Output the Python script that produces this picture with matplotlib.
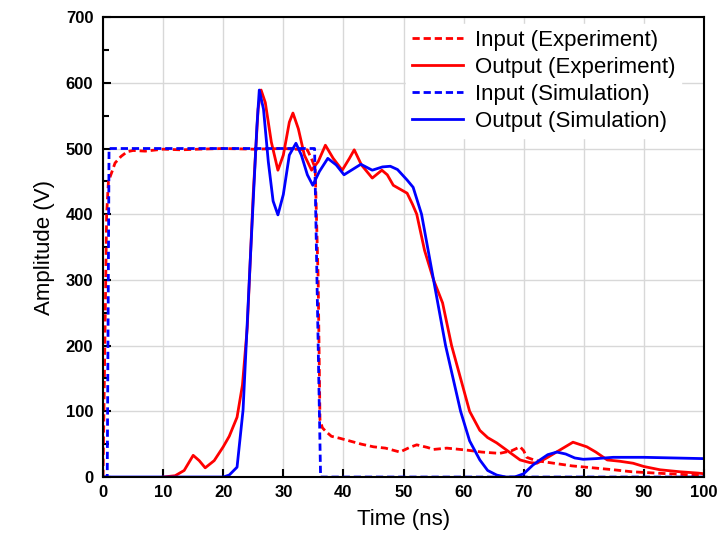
import numpy as np
import matplotlib
matplotlib.use("Agg")
import matplotlib.pyplot as plt
from matplotlib.ticker import MultipleLocator

plt.rcParams['font.family'] = ['Liberation Sans', 'DejaVu Sans']

# --- data (time in ns, amplitude in V) ---
t_in_exp = [0, 0.3, 0.6, 0.9, 1.5, 2, 3, 4, 5, 7, 10, 13, 16, 20, 25, 30, 34, 34.8, 35.3,
            35.8, 36.1, 36.5, 37, 38, 39.4, 41, 43, 45, 47, 49.4, 51, 52.2, 54, 55, 57.2,
            60.5, 63, 66, 68, 69.4, 70, 70.5, 72, 75, 78, 81.5, 85, 88, 92, 96, 99, 100]
v_in_exp = [0, 200, 400, 450, 465, 478, 488, 495, 497, 496, 499, 498, 499, 500, 499, 500, 498,
            482, 470, 300, 87, 75, 70, 62, 59, 55, 50, 46, 44, 38, 45, 49, 45, 42, 44,
            41, 38, 36, 40, 46, 40, 30, 25, 21, 17, 14, 11, 8, 6, 4, 3, 3]

t_out_exp = [10, 12, 13.5, 15, 16, 17, 18.5, 20, 21, 22.3, 23.2, 24, 25, 25.8, 26.3, 27, 28,
             29.1, 30, 31, 31.6, 32.5, 33.5, 34.7, 35.8, 37, 38.3, 39.8, 41, 41.8, 43, 44.8,
             46.4, 47.3, 48.3, 50.6, 51.5, 52.2, 53.5, 55, 56.5, 58, 59.5, 61, 62.7, 64,
             65.5, 67, 69.4, 71, 72.2, 74, 76, 78.2, 80.5, 82, 83.9, 86, 88.2, 90, 92.7,
             96, 99, 100]
v_out_exp = [0, 2, 10, 33, 25, 14, 25, 46, 62, 91, 140, 228, 432, 560, 589, 570, 510,
             467, 490, 540, 554, 530, 490, 467, 480, 505, 485, 467, 485, 498, 475, 455,
             467, 460, 444, 432, 415, 400, 345, 300, 265, 200, 150, 100, 71, 60,
             52, 42, 26, 22, 21, 30, 41, 53, 46, 38, 26, 24, 21, 16, 11,
             8, 6, 5]

t_in_sim = [0, 0.7, 1.0, 35.2, 36.2, 100]
v_in_sim = [0, 0, 500, 500, 0, 0]

t_out_sim = [0, 20, 21, 22.3, 23.3, 24.5, 25.6, 26, 26.7, 27.5, 28.3, 29.1, 30, 31, 32.1,
             33, 34, 34.9, 36, 37.4, 38.8, 40.1, 41.5, 42.9, 44.8, 46.5, 47.8, 49, 50.6,
             51.6, 53, 55, 57, 59.5, 61, 62.7, 64, 65.5, 67, 68.5, 70, 71.5, 72.7, 74,
             75.5, 77, 78.5, 79.9, 82, 84.9, 90, 95, 100]
v_out_sim = [0, 0, 3, 15, 102, 330, 533, 589, 560, 480, 420, 399, 430, 490, 508,
             490, 460, 444, 465, 485, 475, 460, 468, 476, 467, 472, 473, 468, 452,
             441, 400, 300, 200, 100, 55, 26, 10, 3, 0, 0, 5, 18, 26, 34,
             38, 35, 29, 27, 28, 30, 30, 29, 28]

fig = plt.figure(figsize=(7.18, 5.43), dpi=100)
ax = fig.add_axes([0.1435, 0.1215, 0.837, 0.847])

dash = (0, (2.6, 1.4))
ax.plot(t_in_exp, v_in_exp, color='#ff0000', lw=2, linestyle=dash, label='Input (Experiment)')
ax.plot(t_out_exp, v_out_exp, color='#ff0000', lw=2, label='Output (Experiment)')
ax.plot(t_in_sim, v_in_sim, color='#0000ff', lw=2, linestyle=dash, label='Input (Simulation)')
ax.plot(t_out_sim, v_out_sim, color='#0000ff', lw=2, label='Output (Simulation)')

ax.set_xlim(0, 100)
ax.set_ylim(0, 700)
ax.xaxis.set_major_locator(MultipleLocator(10))
ax.yaxis.set_major_locator(MultipleLocator(100))
ax.yaxis.set_minor_locator(MultipleLocator(50))
ax.tick_params(direction='in', which='both', labelsize=12, width=1.5)
ax.tick_params(axis='y', which='major', length=6, pad=7)
ax.tick_params(axis='x', which='major', length=6, pad=6)
ax.tick_params(which='minor', length=4)
for lbl in ax.get_xticklabels() + ax.get_yticklabels():
    lbl.set_fontweight('bold')
ax.grid(True, color='#d8d8d8', lw=1)
ax.set_axisbelow(True)
for s in ax.spines.values():
    s.set_linewidth(1.5)

ax.set_xlabel('Time (ns)', fontsize=16, labelpad=6)
ax.set_ylabel('Amplitude (V)', fontsize=16, labelpad=8)

leg = ax.legend(loc='upper right', bbox_to_anchor=(0.962, 0.985), fontsize=16,
                handlelength=2.3, labelspacing=0.28, borderaxespad=0, borderpad=0.25,
                frameon=True, fancybox=False, framealpha=1, edgecolor='white',
                handletextpad=0.55)

fig.savefig('out.png', dpi=100)
